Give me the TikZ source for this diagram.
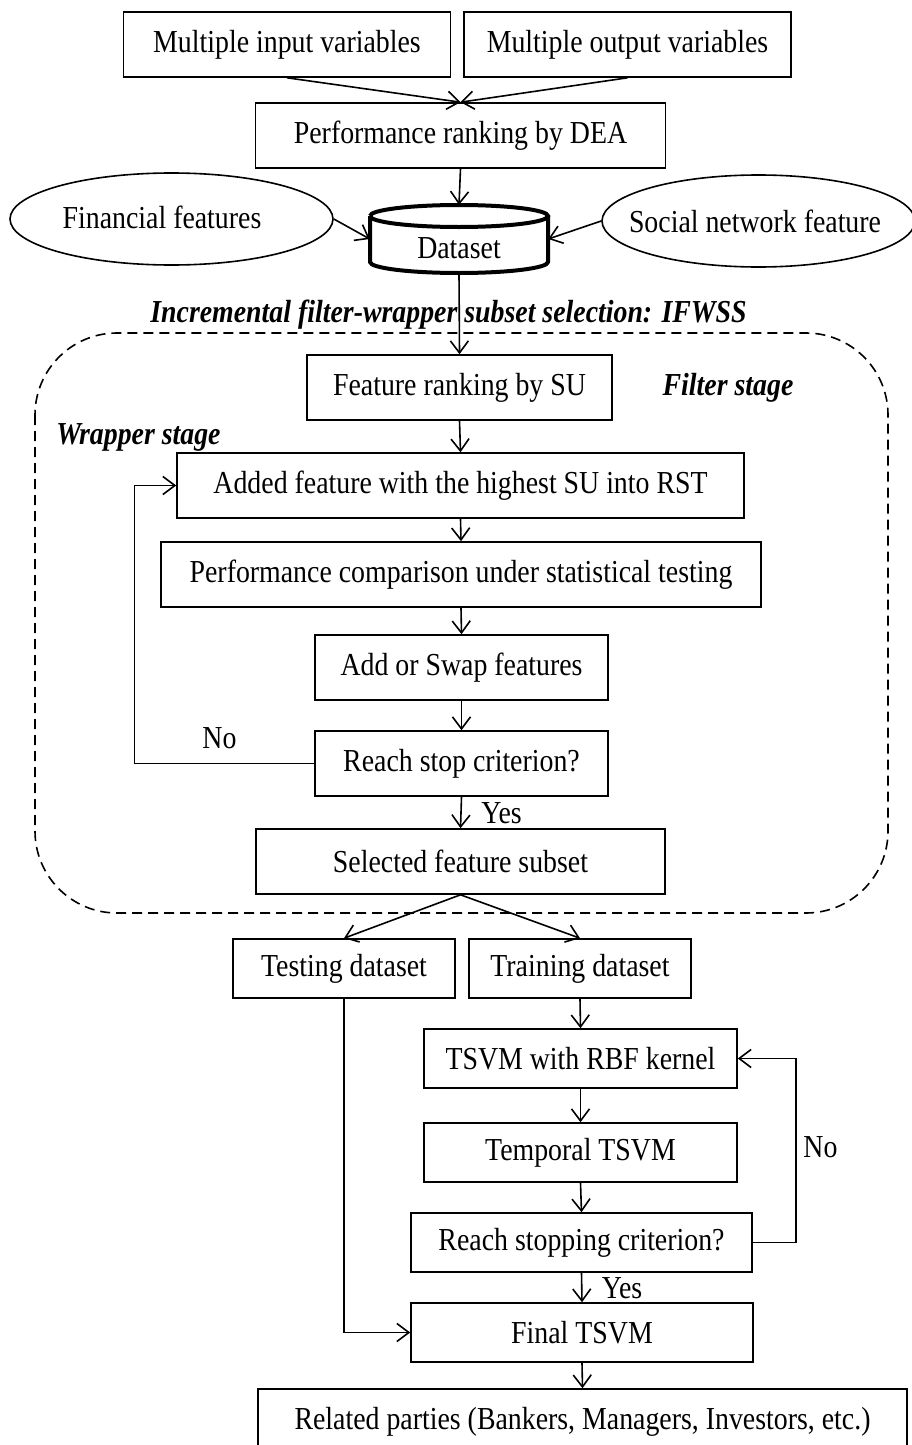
\documentclass[tikz,border=0pt]{standalone}
\usepackage{fontspec}
\setmainfont[FakeStretch=0.87]{Liberation Serif}
\usetikzlibrary{arrows.meta,shapes.geometric}
\begin{document}
\begin{tikzpicture}[x=1pt,y=-1pt,
  font=\fontsize{32}{36}\selectfont,
  box/.style={draw,line width=1.6pt,rectangle,inner sep=0pt,minimum width=#1},
  tall/.style={minimum height=65pt},
  short/.style={minimum height=59pt},
  oval/.style={draw,line width=1.6pt,ellipse,inner sep=0pt},
  lbl/.style={inner sep=0pt,font=\fontsize{32}{36}\selectfont\bfseries\itshape},
  plain/.style={inner sep=0pt},
  conn/.style={line width=1.6pt,-{Straight Barb[length=12pt,width=18pt,line width=1.6pt]}}]
\useasboundingbox (0,0) rectangle (912,1445);
% top
\node[box=327,tall] (in) at (287,44.5) {Multiple input variables};
\node[box=327,tall] (out) at (627.5,44.5) {Multiple output variables};
\node[box=410,tall] (dea) at (460.5,135.5) {Performance ranking by DEA};
\node[oval,minimum width=323pt,minimum height=92pt] (fin) at (171.5,219) {};
\node[plain] at (162,217) {Financial features};
\node[oval,minimum width=313pt,minimum height=92pt] (soc) at (758.5,221) {};
\node[plain] at (755,221) {Social network feature};
\node[rectangle,minimum width=178pt,minimum height=68pt,inner sep=0pt] (dataset) at (459,239) {};
\draw[line width=4pt] (370,216) arc[start angle=180,end angle=-180,x radius=89,y radius=11];
\draw[line width=4pt] (370,216) -- (370,262) arc[start angle=180,end angle=360,x radius=89,y radius=-11] -- (548,216);
\node[plain] at (459,248) {Dataset};
\draw[conn] (in.south) -- (dea.north);
\draw[conn] (out.south) -- (dea.north);
\draw[conn] (dea.south) -- (dataset.north);
\draw[conn] (fin.east) -- (dataset.west);
\draw[conn] (soc.west) -- (dataset.east);
% IFWSS
\node[lbl] (ifwss) at (448.5,315) {Incremental filter-wrapper subset selection: IFWSS};
\draw[line width=1.6pt,dash pattern=on 10pt off 6pt,rounded corners=82pt] (35,333) rectangle (888,913);
\node[box=305,tall] (feat) at (459.5,387.5) {Feature ranking by SU};
\node[lbl] (filt) at (728,388) {Filter stage};
\node[lbl] (wrap) at (138.5,437) {Wrapper stage};
\node[box=567,tall] (added) at (460.5,485.5) {Added feature with the highest SU into RST};
\node[box=600,tall] (perf) at (461,574.5) {Performance comparison under statistical testing};
\node[box=293,tall] (swap) at (461.5,667.5) {Add or Swap features};
\node[box=293,tall] (reach) at (461.5,763.5) {Reach stop criterion?};
\node[box=409,tall] (sel) at (460.5,861.5) {Selected feature subset};
\draw[conn] (dataset.south) -- (feat.north);
\draw[conn] (feat.south) -- (added.north);
\draw[conn] (added.south) -- (perf.north);
\draw[conn] (perf.south) -- (swap.north);
\draw[conn] (swap.south) -- (reach.north);
\draw[conn] (reach.south) -- (sel.north);
\node[plain] at (501.5,813) {Yes};
\coordinate (c1) at (134.5,763.5);
\coordinate (c2) at (134.5,485.5);
\draw[conn] (reach.west) -- (c1) -- (c2) -- (added.west);
\node[plain] at (219.5,738) {No};
% bottom
\node[box=222,short] (test) at (344,968.5) {Testing dataset};
\node[box=222,short] (train) at (580,968.5) {Training dataset};
\node[box=313,short] (tsvm) at (580.5,1058.5) {TSVM with RBF kernel};
\node[box=313,short] (temp) at (580.5,1152.5) {Temporal TSVM};
\node[box=341,short] (reach2) at (581.5,1242.5) {Reach stopping criterion?};
\node[box=342,short] (final) at (582,1332.5) {Final TSVM};
\node[box=649,tall] (rel) at (582.5,1421.5) {Related parties (Bankers, Managers, Investors, etc.)};
\draw[conn] (sel.south) -- (test.north);
\draw[conn] (sel.south) -- (train.north);
\draw[conn] (train.south) -- (tsvm.north);
\draw[conn] (tsvm.south) -- (temp.north);
\draw[conn] (temp.south) -- (reach2.north);
\draw[conn] (reach2.south) -- (final.north);
\node[plain] at (622,1288) {Yes};
\coordinate (c3) at (796,1242.5);
\coordinate (c4) at (796,1058.5);
\draw[conn] (reach2.east) -- (c3) -- (c4) -- (tsvm.east);
\node[plain] at (820.5,1147) {No};
\coordinate (c5) at (344,1332.5);
\draw[conn] (test.south) -- (c5) -- (final.west);
\draw[conn] (final.south) -- (rel.north);
\end{tikzpicture}
\end{document}
